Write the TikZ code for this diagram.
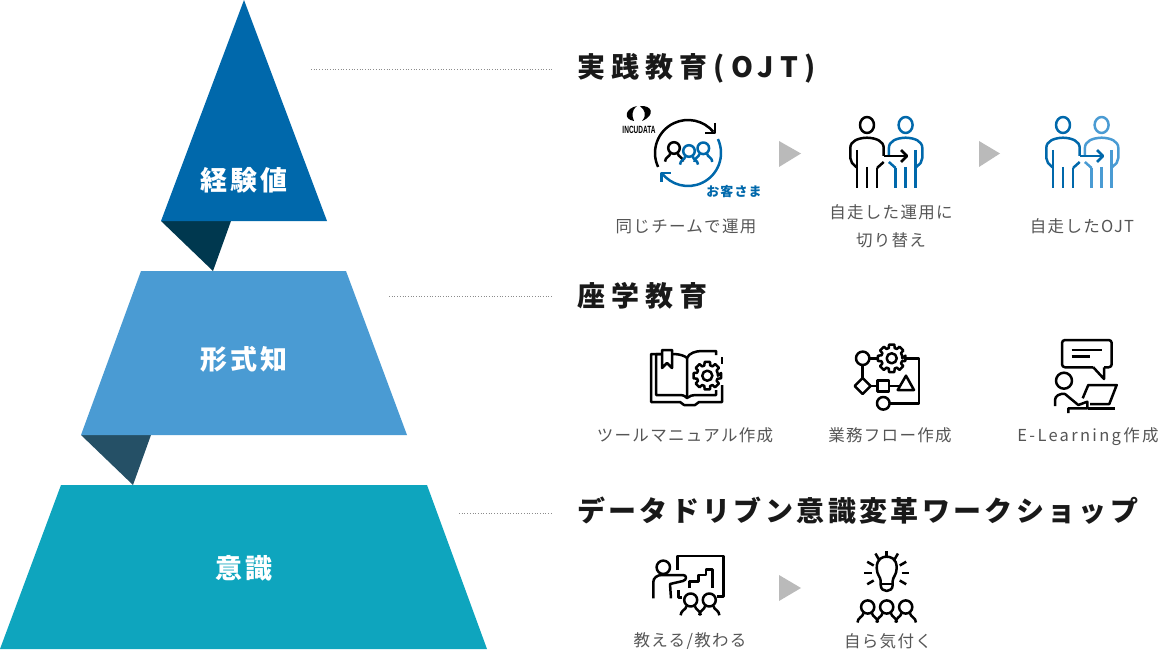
\documentclass[tikz,border=0pt]{standalone}
\usepackage{fontspec}
\setmainfont{Noto Sans CJK JP}
\newfontfamily\titlefont[LetterSpace=22]{Noto Sans CJK JP}
\newfontfamily\longtitlefont[LetterSpace=12]{Noto Sans CJK JP}
\newfontfamily\tierfont[LetterSpace=10]{Noto Sans CJK JP}
\newfontfamily\captionfont[LetterSpace=8]{Noto Sans CJK JP}
\newfontfamily\latincaptionfont[LetterSpace=14]{Noto Sans CJK JP}
\newfontfamily\logofont{Liberation Sans}
\usetikzlibrary{positioning,calc}
\definecolor{topblue}{HTML}{0068AB}
\definecolor{midblue}{HTML}{4A9BD3}
\definecolor{lowteal}{HTML}{0EA5BE}
\definecolor{topfold}{HTML}{00384F}
\definecolor{midfold}{HTML}{255066}
\definecolor{textgrey}{HTML}{555555}
\tikzset{
  tiertext/.style={text=white,inner sep=0,font=\tierfont\bfseries\fontsize{27}{27}\selectfont},
  titletext/.style={anchor=west,text=black!90,inner sep=0,font=\titlefont\bfseries\fontsize{28}{28}\selectfont},
  longtitletext/.style={anchor=west,text=black!90,inner sep=0,font=\longtitlefont\bfseries\fontsize{28}{28}\selectfont},
  captiontext/.style={text=textgrey,inner sep=0,align=center,font=\captionfont\fontsize{16.5}{28}\selectfont},
  leader/.style={draw=black!45,line width=0.7pt,dotted},
  pointer/.style={fill=black!27},
  icon/.style={line width=2.5pt,line join=round}
}
% head and shoulders: x, y, radius, colour
\newcommand{\bust}[4]{
  \begin{scope}[shift={(#1,#2)},x=#3pt,y=-#3pt,icon,draw=#4]
    \draw (0,0) circle (1);
    \draw (-1.55,2.35) .. controls (-1.55,1.6) and (-0.7,1.5) .. (-0.65,0.95);
    \draw (1.55,2.35) .. controls (1.55,1.6) and (0.7,1.5) .. (0.65,0.95);
  \end{scope}
}
% standing figure: x of head, colour, facing (1 right, -1 left)
\newcommand{\standing}[3]{
  \begin{scope}[shift={(#1,125)},xscale=#3,icon,draw=#2]
    \draw (0,0) ellipse (7 and 8);
    \draw (-10,42.7) -- (-15,38) .. controls (-16.7,36) and (-16.7,35) .. (-16.7,33) -- (-16.7,23)
      .. controls (-16.7,16) and (-9,13) .. (0,12.7) .. controls (9,13) and (16.7,16) .. (16.7,23) -- (16.7,31);
    \draw (16.7,37) -- (10,43);
    \draw (-10,25) -- (-10,63);
    \draw (0,42) -- (0,63);
    \draw (10,43) -- (10,63);
  \end{scope}
}
% gear: x, y, outer radius
\newcommand{\cogwheel}[3]{
  \begin{scope}[shift={(#1,#2)},icon]
    \draw (0:#3*0.76) \foreach \a in {0,45,...,315}{
      -- ({\a-11}:#3) -- ({\a+11}:#3) -- ({\a+16}:#3*0.76) -- ({\a+29}:#3*0.76)
    } -- cycle;
    \draw (0,0) circle (#3*0.36);
  \end{scope}
}

\begin{document}
\begin{tikzpicture}[x=1pt,y=-1pt]
  \useasboundingbox (0,0) rectangle (1160,666);

  % pyramid
  \fill[topfold] (161,221) -- (231,221) -- (213,271) -- cycle;
  \fill[midfold] (81,435) -- (151,435) -- (133,485) -- cycle;
  \fill[topblue] (244,0) -- (327,221) -- (161,221) -- cycle;
  \fill[midblue] (141,271) -- (346,271) -- (407,435) -- (81,435) -- cycle;
  \fill[lowteal] (61,485) -- (427,485) -- (487,649) -- (0,649) -- cycle;
  \node (keiken) at (244,180) [tiertext] {経験値};
  \node (keishiki) at (244,359) [tiertext] {形式知};
  \node (ishiki) at (244,568) [tiertext] {意識};

  % titles
  \node (ojt) at (577,68) [titletext] {実践教育(OJT)};
  \node (zagaku) at (577,296) [titletext] {座学教育};
  \node (workshop) at (577,511) [longtitletext] {データドリブン意識変革ワークショップ};

  \coordinate (ojtfrom) at (311,69);
  \coordinate (ojtto) at (552,69);
  \coordinate (zagakufrom) at (389,296);
  \coordinate (zagakuto) at (552,296);
  \coordinate (workshopfrom) at (459,513);
  \coordinate (workshopto) at (552,513);
  \draw[leader] (ojtfrom) -- (ojtto);
  \draw[leader] (zagakufrom) -- (zagakuto);
  \draw[leader] (workshopfrom) -- (workshopto);

  % pointers
  \fill[pointer] (779,141) -- (801,153.5) -- (779,167) -- cycle;
  \fill[pointer] (979,141) -- (1000,153.5) -- (979,167) -- cycle;
  \fill[pointer] (779,575) -- (801,588) -- (779,601) -- cycle;

  % captions
  \node (same) at (686,226) [captiontext] {同じチームで運用};
  \node (self) at (891,226) [captiontext] {自走した運用に\\切り替え};
  \node (selfojt) at (1082,226) [captiontext] {自走したOJT};
  \node (tool) at (685,435) [captiontext] {ツールマニュアル作成};
  \node (flow) at (890,435) [captiontext] {業務フロー作成};
  \node (elearn) at (1088,436.5) [captiontext] {\latincaptionfont\fontsize{16.5}{28}\selectfont E-Learning作成};
  \node (teach) at (690,641) [captiontext] {教える/教わる};
  \node (aware) at (888,641) [captiontext] {自ら気付く};

  % logo and cycle
  \fill (637,106) .. controls (626,108) and (622,119) .. (634,121) .. controls (632,116) and (631,111) .. (637,106) -- cycle;
  \fill (640,106) .. controls (652,105) and (656,115) .. (642,121) .. controls (647,115) and (645,110) .. (640,106) -- cycle;
  \node (logo) at (639,130) [inner sep=0] {\logofont\fontsize{10.5}{10.5}\selectfont\scalebox{0.62}[1]{\textbf{INCUDATA}}};
  \coordinate (cycle) at (688,153);
  \draw[icon] (cycle) ++(-205:33) arc[start angle=-205,end angle=-40,radius=33];
  \draw[icon] (715,123) -- (715,133) -- (705,133);
  \draw[icon,draw=topblue] (cycle) ++(-25:33) arc[start angle=-25,end angle=143,radius=33];
  \draw[icon,draw=topblue] (661.5,182) -- (661.5,173) -- (671,173);
  \bust{674}{148}{5.8}{black}
  \bust{703.3}{148.3}{5.8}{topblue}
  \bust{689}{151}{5.8}{topblue}
  \node (guest) at (734,192) [inner sep=0,text=topblue] {\captionfont\bfseries\fontsize{13}{13}\selectfont お客さま};

  % handing over
  \standing{867}{black}{1}
  \standing{905.6}{topblue}{-1}
  \draw[icon] (883.7,156) -- (907,156);
  \draw[icon] (901,150) -- (907,156) -- (901,162);
  \standing{1063}{topblue}{1}
  \standing{1101.6}{midblue}{-1}
  \draw[icon,draw=topblue] (1079.7,156) -- (1103,156);
  \draw[icon,draw=topblue] (1097,150) -- (1103,156) -- (1097,162);

  % book
  \begin{scope}[icon]
    \draw (661,354) -- (651,354) -- (651,402) -- (680,402) -- (684,405) -- (695,405) -- (699,402) -- (722,402) -- (722,385);
    \draw (661,354) -- (656,354) -- (656,395) -- (680,395) .. controls (684,395) and (686,397) .. (687,398)
      .. controls (690,396) and (692,395) .. (695,395) -- (716,395) -- (716,390);
    \draw (673,354) .. controls (680,354) and (685,356) .. (687,358) -- (687,398);
    \draw (687,358) .. controls (689,353) and (696,351) .. (702,351) -- (716,351) -- (716,355);
    \draw (722,357) -- (722,364);
    \draw (662,350) -- (672,350) -- (672,368) -- (667,363) -- (662,368) -- cycle;
  \end{scope}
  \cogwheel{707.3}{375.7}{14}

  % flow chart
  \cogwheel{891.7}{358.3}{14}
  \begin{scope}[icon]
    \draw (862.7,358.3) circle (6.7);
    \draw (883.3,403.3) circle (6.3);
    \draw (869.4,358.3) -- (877.7,358.3);
    \draw (905.7,358.3) -- (919,358.3) -- (919,403.3) -- (889.6,403.3);
    \draw (862.7,365) -- (862.7,378);
    \draw (862.7,378) -- (870.7,386) -- (862.7,394) -- (854.7,386) -- cycle;
    \draw (877.6,380.3) rectangle (889,391.7);
    \draw (906,375.7) -- (914,390) -- (897.7,390) -- cycle;
    \draw (870.7,386) -- (877.6,386);
    \draw (889,386) -- (900,386);
  \end{scope}

  % e-learning
  \begin{scope}[icon]
    \draw[rounded corners=3pt] (1093.3,367.3) -- (1062,367.3) -- (1062,340) -- (1111.7,340) -- (1111.7,367.3) -- (1104,367.3);
    \draw (1093.3,367.3) -- (1104,379) -- (1104,367.3);
    \draw (1071.7,350) -- (1101.7,350);
    \draw (1071.7,356.7) -- (1090,356.7);
    \draw (1064,380.7) circle (8);
    \draw (1055,406) -- (1055,400) .. controls (1055,396) and (1060,393) .. (1065,394)
      -- (1078.3,405) -- (1087.3,401.7) -- (1087.3,408.3) -- (1068.3,408.3) -- (1068.3,413);
    \draw (1088.3,408.3) -- (1115,408.3);
    \draw (1082.7,398.3) -- (1088.3,385) -- (1116.7,385) -- (1109.3,404) -- (1090,404);
  \end{scope}

  % presenter
  \begin{scope}[icon]
    \draw (677.3,570) -- (677.3,556) -- (723.3,556) -- (723.3,596.7) -- (717,596.7);
    \draw (663.3,567.3) circle (6.7);
    \draw (653.3,598.3) -- (653.3,582) .. controls (653.3,578) and (657,575) .. (662,575)
      -- (683,575) .. controls (687,575) and (687,580) .. (683,581) -- (670,584) -- (671,598.3);
    \draw (689.3,588) -- (689.3,581.7) -- (698.3,581.7) -- (698.3,575) -- (706,575) -- (706,569.3) -- (712.7,569.3) -- (712.7,588);
    \draw (678.3,590) -- (678.3,597.3) -- (681.7,597.3);
  \end{scope}
  \bust{690.7}{600}{6.5}{black}
  \bust{709.3}{600}{6.5}{black}

  % bulb and audience
  \begin{scope}[icon]
    \draw (880.7,585) -- (880.7,581) .. controls (880.7,577) and (876.7,575) .. (876.7,568)
      .. controls (876.7,558) and (883,556.7) .. (886.7,556.7) .. controls (890.3,556.7) and (896.7,558) .. (896.7,568)
      .. controls (896.7,575) and (892.7,577) .. (892.7,581) -- (892.7,585) .. controls (892.7,593) and (880.7,593) .. (880.7,585) -- cycle;
    \draw (881,584) -- (892.4,584);
    \foreach \a in {-90,-60,-30,0,30,-120,-150,180,150}{
      \draw (886.7,573) ++(\a:15) -- ++(\a:7.5);
    }
  \end{scope}
  \bust{867.7}{607}{6.6}{black}
  \bust{886.7}{607}{6.6}{black}
  \bust{905.7}{607}{6.6}{black}
\end{tikzpicture}
\end{document}
